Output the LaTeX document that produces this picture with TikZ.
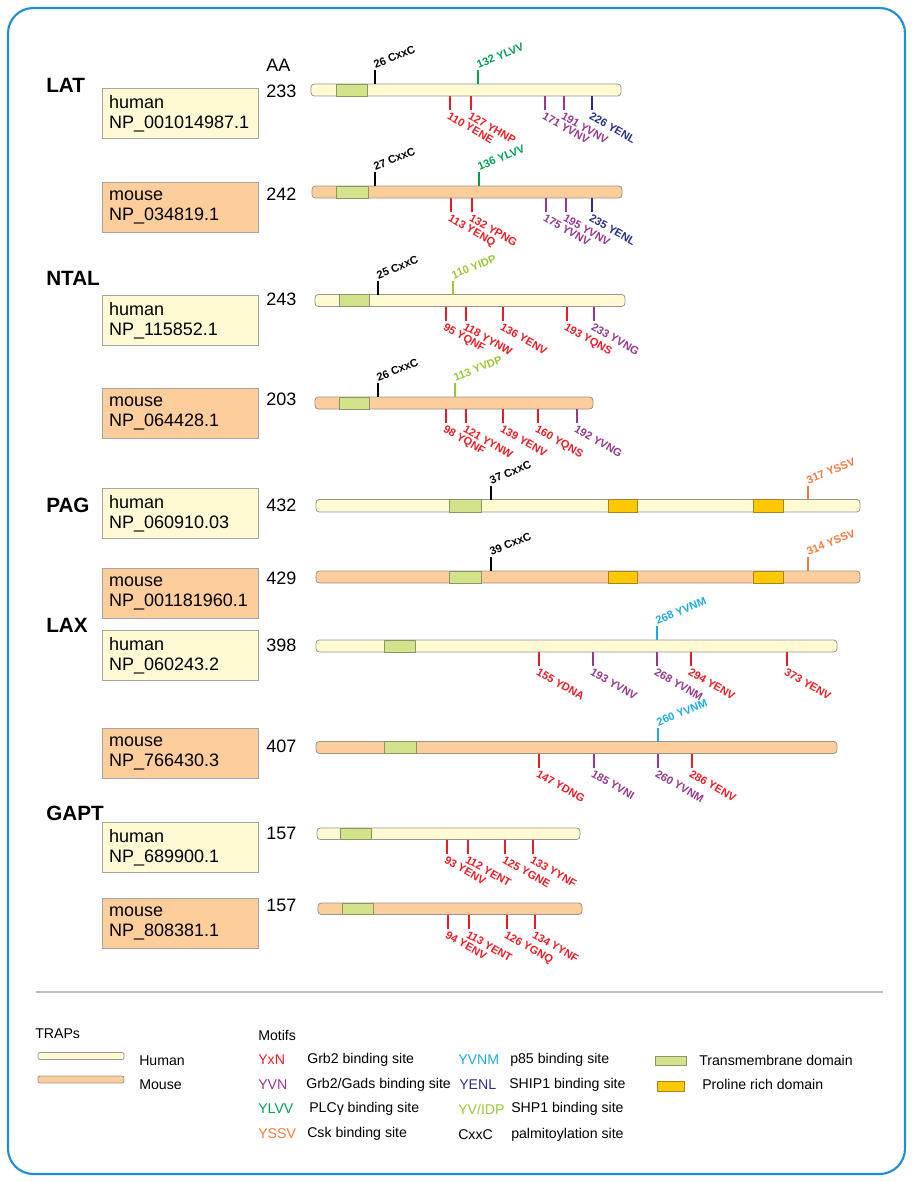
\documentclass[tikz,border=0pt]{standalone}
\usepackage{fontspec}
\setmainfont{Liberation Sans}
\definecolor{hum}{RGB}{255,250,212}
\definecolor{mou}{RGB}{253,206,156}
\definecolor{bargray}{RGB}{150,150,140}
\definecolor{boxgray}{RGB}{165,165,165}
\definecolor{tmgreen}{RGB}{210,227,140}
\definecolor{tmborder}{RGB}{140,150,100}
\definecolor{prolin}{RGB}{255,200,0}
\definecolor{proborder}{RGB}{170,130,40}
\definecolor{mred}{RGB}{236,28,36}
\definecolor{mpurple}{RGB}{150,55,140}
\definecolor{mgreen}{RGB}{0,160,80}
\definecolor{mnavy}{RGB}{40,45,140}
\definecolor{mlgreen}{RGB}{155,200,55}
\definecolor{morange}{RGB}{244,122,64}
\definecolor{mcyan}{RGB}{30,170,225}
\definecolor{frameblue}{RGB}{30,143,213}
\definecolor{sepgray}{RGB}{190,190,190}
\newcommand\tup[5]{%
  \draw[tick,#4] ({#2},{#3}) -- ({#2},{#3-14}) coordinate (#1p);
  \node[uplab,text=#4] (#1) at (#1p) {#5};}
\newcommand\tdn[5]{%
  \draw[tick,#4] ({#2},{#3}) -- ({#2},{#3+14}) coordinate (#1p);
  \node[dnlab,text=#4] (#1) at (#1p) {#5};}
\begin{document}
\begin{tikzpicture}[x=0.75pt,y=-0.75pt,
  bar/.style={draw=bargray,line width=0.6pt,rounded corners=2.5pt},
  tm/.style={draw=tmborder,fill=tmgreen,line width=0.5pt},
  pro/.style={draw=proborder,fill=prolin,line width=0.5pt},
  tick/.style={line width=2.1pt},
  uplab/.style={anchor=south west,rotate=22,inner sep=0.6pt,font=\fontsize{8.3}{9}\selectfont\bfseries},
  dnlab/.style={anchor=north west,rotate=-30,inner sep=0.8pt,font=\fontsize{8.3}{9}\selectfont\bfseries},
  hbox/.style={draw=boxgray,line width=0.6pt,fill=hum,anchor=north west,minimum width=117pt,minimum height=37.5pt,text width=107pt,inner xsep=5pt,align=left,font=\fontsize{13.5}{15}\selectfont},
  mbox/.style={hbox,fill=mou},
  grp/.style={anchor=west,inner sep=0pt,font=\fontsize{15.5}{18}\selectfont\bfseries},
  aa/.style={anchor=west,inner sep=0pt,font=\fontsize{13.5}{15}\selectfont},
  leg/.style={anchor=west,inner sep=0pt,font=\fontsize{10.6}{12}\selectfont}
]
\useasboundingbox (0,0) rectangle (913,1182);
\draw[frameblue,line width=1.6pt,rounded corners=19pt] (8,8) rectangle (905,1174);

% ---------- group labels, boxes, lengths
\node[grp] (glat) at (46,85) {LAT};
\node[grp] (gntal) at (46,278) {NTAL};
\node[grp] (gpag) at (46,505) {PAG};
\node[grp] (glax) at (46,625) {LAX};
\node[grp] (ggapt) at (46,813) {GAPT};
\node[aa] (aahead) at (266,65) {AA};

\node[hbox] (b1) at (102,88) {human\\NP\_001014987.1};
\node[mbox] (b2) at (102,182) {mouse\\NP\_034819.1};
\node[hbox] (b3) at (102,295) {human\\NP\_115852.1};
\node[mbox] (b4) at (102,388) {mouse\\NP\_064428.1};
\node[hbox] (b5) at (102,488) {human\\NP\_060910.03};
\node[mbox] (b6) at (102,568) {mouse\\NP\_001181960.1};
\node[hbox] (b7) at (102,630) {human\\NP\_060243.2};
\node[mbox] (b8) at (102,728) {mouse\\NP\_766430.3};
\node[hbox] (b9) at (102,822) {human\\NP\_689900.1};
\node[mbox] (b10) at (102,898) {mouse\\NP\_808381.1};

\node[aa] (n1) at (266,91) {233};
\node[aa] (n2) at (266,194) {242};
\node[aa] (n3) at (266,299) {243};
\node[aa] (n4) at (266,399) {203};
\node[aa] (n5) at (266,505) {432};
\node[aa] (n6) at (266,578) {429};
\node[aa] (n7) at (266,645) {398};
\node[aa] (n8) at (266,746) {407};
\node[aa] (n9) at (266,833) {157};
\node[aa] (n10) at (266,905) {157};

% ---------- LAT human
\draw[bar,fill=hum] (311,84) rectangle (621,96);
\draw[tm] (336,84) rectangle (367,96);
\draw[tick,black] (375,84) -- (375,70) coordinate (a1p);
\node[uplab] (a1) at (a1p) {26 CxxC};
\tup{a2}{478}{84}{mgreen}{132 YLVV}
\tdn{a3}{450}{96}{mred}{110 YENE}
\tdn{a4}{471}{96}{mred}{127 YHNP}
\tdn{a5}{545}{96}{mpurple}{171 YVNV}
\tdn{a6}{564}{96}{mpurple}{191 YVNV}
\tdn{a7}{592}{96}{mnavy}{226 YENL}

% ---------- LAT mouse
\draw[bar,fill=mou] (312,186) rectangle (622,198);
\draw[tm] (336,186) rectangle (368,198);
\draw[tick,black] (375,186) -- (375,172) coordinate (c1p);
\node[uplab] (c1) at (c1p) {27 CxxC};
\tup{c2}{479}{186}{mgreen}{136 YLVV}
\tdn{c3}{451}{198}{mred}{113 YENQ}
\tdn{c4}{472}{198}{mred}{132 YPNG}
\tdn{c5}{546}{198}{mpurple}{175 YVNV}
\tdn{c6}{566}{198}{mpurple}{195 YVNV}
\tdn{c7}{592}{198}{mnavy}{235 YENL}

% ---------- NTAL human
\draw[bar,fill=hum] (315,294.5) rectangle (625,306.5);
\draw[tm] (339,294.5) rectangle (369,306.5);
\draw[tick,black] (378,294.5) -- (378,280.5) coordinate (d1p);
\node[uplab] (d1) at (d1p) {25 CxxC};
\tup{d2}{453}{294.5}{mlgreen}{110 YIDP}
\tdn{d3}{446}{306.5}{mred}{95 YQNF}
\tdn{d4}{466}{306.5}{mred}{118 YYNW}
\tdn{d5}{503}{306.5}{mred}{136 YENV}
\tdn{d6}{567}{306.5}{mred}{193 YQNS}
\tdn{d7}{594}{306.5}{mpurple}{233 YVNG}

% ---------- NTAL mouse
\draw[bar,fill=mou] (315,397) rectangle (593,409);
\draw[tm] (339,397) rectangle (369,409);
\draw[tick,black] (378,397) -- (378,383) coordinate (e1p);
\node[uplab] (e1) at (e1p) {26 CxxC};
\tup{e2}{455}{397}{mlgreen}{113 YVDP}
\tdn{e3}{446}{409}{mred}{98 YQNF}
\tdn{e4}{466}{409}{mred}{121 YYNW}
\tdn{e5}{503}{409}{mred}{139 YENV}
\tdn{e6}{538}{409}{mred}{160 YQNS}
\tdn{e7}{577}{409}{mpurple}{192 YVNG}

% ---------- PAG human
\draw[bar,fill=hum] (316,499.5) rectangle (860,512);
\draw[tm] (449,499.5) rectangle (481,512);
\draw[pro] (608,499.5) rectangle (637,512);
\draw[pro] (753,499.5) rectangle (783,512);
\draw[tick,black] (491,499.5) -- (491,485.5) coordinate (f1p);
\node[uplab] (f1) at (f1p) {37 CxxC};
\tup{f2}{808}{499.5}{morange}{317 YSSV}

% ---------- PAG mouse
\draw[bar,fill=mou] (316,571) rectangle (860,583);
\draw[tm] (449,571) rectangle (481,583);
\draw[pro] (608,571) rectangle (637,583);
\draw[pro] (753,571) rectangle (783,583);
\draw[tick,black] (491,571) -- (491,557) coordinate (g1p);
\node[uplab] (g1) at (g1p) {39 CxxC};
\tup{g2}{808}{571}{morange}{314 YSSV}

% ---------- LAX human
\draw[bar,fill=hum] (316,640) rectangle (837,652);
\draw[tm] (384,640) rectangle (415,652);
\tup{h1}{657}{640}{mcyan}{268 YVNM}
\tdn{h2}{539}{652}{mred}{155 YDNA}
\tdn{h3}{593}{652}{mpurple}{193 YVNV}
\tdn{h4}{657}{652}{mpurple}{268 YVNM}
\tdn{h5}{691}{652}{mred}{294 YENV}
\tdn{h6}{787}{652}{mred}{373 YENV}

% ---------- LAX mouse
\draw[bar,fill=mou] (316,741.5) rectangle (837,753.5);
\draw[tm] (384,741.5) rectangle (416,753.5);
\tup{i1}{658}{741.5}{mcyan}{260 YVNM}
\tdn{i2}{539}{753.5}{mred}{147 YDNG}
\tdn{i3}{594}{753.5}{mpurple}{185 YVNI}
\tdn{i4}{658}{753.5}{mpurple}{260 YVNM}
\tdn{i5}{692}{753.5}{mred}{286 YENV}

% ---------- GAPT human
\draw[bar,fill=hum] (317,828) rectangle (580,839.5);
\draw[tm] (340,828) rectangle (371,839.5);
\tdn{j1}{447}{839.5}{mred}{93 YENV}
\tdn{j2}{468}{839.5}{mred}{112 YENT}
\tdn{j3}{505}{839.5}{mred}{125 YGNE}
\tdn{j4}{533}{839.5}{mred}{133 YYNF}

% ---------- GAPT mouse
\draw[bar,fill=mou] (318,903) rectangle (582,914.5);
\draw[tm] (342,903) rectangle (373,914.5);
\tdn{k1}{448}{914.5}{mred}{94 YENV}
\tdn{k2}{469}{914.5}{mred}{113 YENT}
\tdn{k3}{507}{914.5}{mred}{126 YGNQ}
\tdn{k4}{535}{914.5}{mred}{134 YYNF}

% ---------- legend
\draw[sepgray,line width=0.8pt] (36,992) -- (883,992);
\node[leg] (ltraps) at (35,1034) {TRAPs};
\draw[bar,fill=hum,rounded corners=1.5pt] (38,1052.5) rectangle (124,1059.5);
\node[leg] (lhum) at (139,1061) {Human};
\draw[bar,fill=mou,rounded corners=1.5pt] (38,1076) rectangle (124,1083);
\node[leg] (lmou) at (139,1085) {Mouse};

\node[leg] (lmot) at (258,1035) {Motifs};
\node[leg,text=mred] (m1) at (258,1060) {YxN};
\node[leg] (m1d) at (307,1060) {Grb2 binding site};
\node[leg,text=mpurple] (m2) at (258,1085) {YVN};
\node[leg] (m2d) at (306,1085) {Grb2/Gads binding site};
\node[leg,text=mgreen] (m3) at (258,1109) {YLVV};
\node[leg] (m3d) at (309,1109) {PLCγ binding site};
\node[leg,text=morange] (m4) at (258,1134) {YSSV};
\node[leg] (m4d) at (307,1134) {Csk binding site};

\node[leg,text=mcyan] (m5) at (458,1060) {YVNM};
\node[leg] (m5d) at (510,1060) {p85 binding site};
\node[leg,text=mnavy] (m6) at (459,1085) {YENL};
\node[leg] (m6d) at (509,1085) {SHIP1 binding site};
\node[leg,text=mlgreen] (m7) at (458,1109) {YV/IDP};
\node[leg] (m7d) at (511,1109) {SHP1 binding site};
\node[leg] (m8) at (458,1135) {CxxC};
\node[leg] (m8d) at (511,1135) {palmitoylation site};

\draw[tm] (655,1056) rectangle (686,1065);
\node[leg] (ltm) at (699,1060) {Transmembrane domain};
\draw[pro] (657,1081) rectangle (684,1091);
\node[leg] (lpro) at (702,1084) {Proline rich domain};
\end{tikzpicture}
\end{document}
